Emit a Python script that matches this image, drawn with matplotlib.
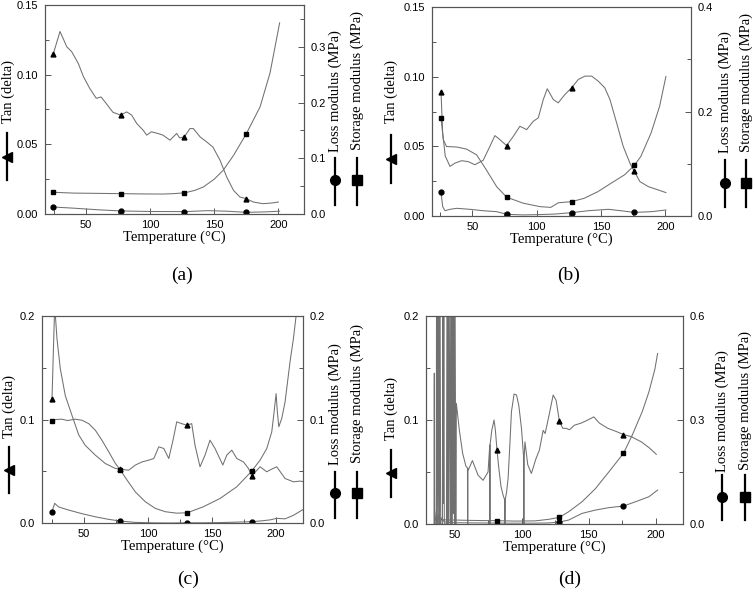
import numpy as np
import matplotlib
matplotlib.use('Agg')
import matplotlib.pyplot as plt
from matplotlib.lines import Line2D
from matplotlib.ticker import MultipleLocator, FormatStrFormatter

# ---- data (temperature in C, tan delta on left axis, moduli in MPa on right axis) ----
# (a)
a_tan_T = [24.5, 29.7, 35, 38.8, 44, 48, 53, 58, 61.7, 66, 71, 77, 81.7, 85.6, 89.5, 94.7, 97.3, 101, 106, 110,
           115.5, 120.7, 123, 126.7, 131, 133.7, 139, 144, 149, 154.5, 159.7, 165, 170, 175, 180.5, 188, 195, 200]
a_tan = [0.115, 0.131, 0.120, 0.1165, 0.108, 0.0985, 0.090, 0.083, 0.084, 0.079, 0.073, 0.071, 0.0733, 0.071, 0.065,
         0.060, 0.0566, 0.059, 0.0578, 0.0566, 0.053, 0.0578, 0.0546, 0.0553, 0.0613, 0.0613, 0.0553, 0.0518, 0.048,
         0.0386, 0.0266, 0.017, 0.0122, 0.011, 0.0086, 0.0074, 0.0079, 0.0086]
a_sto_T = [24.5, 40, 60, 77, 95, 110, 118, 127, 135, 141.5, 150, 157, 165, 175, 185.7, 193.5, 201]
a_sto = [0.039, 0.0375, 0.037, 0.0365, 0.036, 0.0358, 0.0365, 0.038, 0.0425, 0.0485, 0.0625, 0.0785, 0.105, 0.144,
         0.192, 0.253, 0.343]
a_loss_T = [24.5, 40, 60, 77, 100, 127, 145, 160, 175, 190, 201]
a_loss = [0.0125, 0.0105, 0.0075, 0.0055, 0.0045, 0.0043, 0.006, 0.005, 0.003, 0.0038, 0.005]
a_mark_T = [24.5, 77, 126.7, 175]

# (b)
b_tan_T = [25.7, 27, 29, 32.7, 36.6, 41.8, 46.9, 52, 58.5, 63.7, 67.6, 71.5, 76.7, 81.9, 87, 92.3, 97.4, 101.3,
           105.2, 108.3, 113, 116.8, 122, 127.2, 132.4, 137.6, 142.8, 147.9, 153, 157, 162.2, 167.3, 172.5, 175.9,
           180.3, 186.8, 194.5, 200.5]
b_tan = [0.089, 0.0596, 0.043, 0.0356, 0.038, 0.0397, 0.039, 0.0368, 0.040, 0.050, 0.0577, 0.0548, 0.0505, 0.0572,
         0.0644, 0.062, 0.068, 0.0704, 0.0836, 0.0913, 0.0836, 0.0812, 0.0872, 0.092, 0.098, 0.1004, 0.1004, 0.0968,
         0.092, 0.0836, 0.0668, 0.050, 0.038, 0.032, 0.0247, 0.0211, 0.0187, 0.0168]
b_sto_T = [25.7, 27.5, 30, 38, 45.6, 53.4, 61, 69, 76.7, 89.6, 102.6, 111, 116.8, 127.2, 137, 147.7, 158, 168.4,
           175.9, 181, 189, 195.6, 200.5]
b_sto = [0.188, 0.146, 0.133, 0.132, 0.128, 0.117, 0.088, 0.056, 0.036, 0.0245, 0.0179, 0.0165, 0.0253, 0.0275,
         0.0339, 0.0467, 0.0629, 0.0789, 0.0968, 0.114, 0.159, 0.210, 0.267]
b_loss_T = [25.7, 27, 28.8, 32.7, 37.9, 48.2, 58.5, 69, 76.7, 90, 102, 114.3, 127.2, 140.1, 155.7, 165.5, 175.9,
            189.4, 200.5]
b_loss = [0.0456, 0.0179, 0.0101, 0.0128, 0.0147, 0.0128, 0.0101, 0.0083, 0.0032, 0.0021, 0.0027, 0.0037, 0.0064,
          0.0101, 0.0128, 0.0101, 0.0069, 0.0083, 0.0115]
b_mark_T = [25.7, 76.7, 127.2, 175.9]

# (c)
c_tan_T = [25, 27.1, 28.9, 31.5, 35.4, 40.6, 45.9, 51, 58.8, 66.6, 74.5, 78.4, 84.9, 90.1, 95.3, 100.5, 104.5,
           108.4, 112.3, 116.2, 119.5, 122.4, 126.3, 130.2, 134.1, 136.7, 140.6, 144.5, 148.4, 152.3, 158.4, 161.5,
           165.4, 169.3, 174.5, 178.4, 181, 187.5, 192.7, 196.5, 200.5, 207, 213.5, 218.7, 221]
c_tan = [0.1196, 0.21, 0.178, 0.149, 0.123, 0.104, 0.085, 0.075, 0.0656, 0.0575, 0.0527, 0.052, 0.051, 0.056, 0.059,
         0.0607, 0.0623, 0.0736, 0.072, 0.0623, 0.08, 0.0977, 0.096, 0.0945, 0.096, 0.075, 0.0543, 0.0656, 0.080,
         0.072, 0.056, 0.0656, 0.0704, 0.0623, 0.059, 0.0527, 0.0456, 0.0543, 0.0495, 0.052, 0.0543, 0.043, 0.0398,
         0.0405, 0.040]
c_sto_T = [25, 28, 32.8, 37, 43.2, 48.4, 53.7, 58.8, 64, 69.3, 74.5, 78.4, 83.6, 90.1, 97.9, 105.7, 113.5, 122.4,
           130.7, 143.2, 156.2, 169.3, 180.5, 187.5, 192.7, 196.6, 198.4, 200, 201, 202.1, 204.4, 207, 210.9, 213.5,
           215.6, 217]
c_sto = [0.0983, 0.1, 0.1003, 0.099, 0.1003, 0.0993, 0.096, 0.0897, 0.080, 0.0688, 0.0575, 0.0511, 0.0415, 0.030,
         0.0205, 0.0141, 0.0109, 0.0095, 0.0099, 0.0157, 0.0237, 0.035, 0.0495, 0.0607, 0.072, 0.088, 0.107, 0.125,
         0.107, 0.093, 0.101, 0.117, 0.156, 0.178, 0.2, 0.215]
c_loss_T = [25, 27.1, 30.2, 38, 48.4, 58.8, 69.3, 78.4, 90, 105.7, 118, 130.7, 143, 156, 168, 181, 188, 195.3,
            200.5, 207, 213.5, 221]
c_loss = [0.0109, 0.019, 0.0155, 0.0125, 0.009, 0.006, 0.0035, 0.0019, 0.0006, 0.0001, 0.0, 0.0002, 0.0002, 0.0004,
          0.0008, 0.0013, 0.002, 0.003, 0.0045, 0.004, 0.0074, 0.013]
c_mark_T = [25, 78.4, 130.7, 181]

# (d) - noisy start below 50 C
d_tan_T = [34.3, 34.5, 34.7, 35.9, 36.2, 36.6, 37.0, 37.5, 37.9, 38.4, 38.8, 39.3, 39.6, 40.6, 40.9, 41.3, 41.6,
           42.0, 43.6, 44.0, 44.4, 44.8, 45.2, 45.6, 46.4, 46.8, 47.2, 47.6, 48.0, 48.4, 48.8, 49.2, 49.6, 50.0, 50.6,
           51.0, 53.2, 55.7, 58.2, 59.3, 59.5, 59.7, 60.0, 63.0, 67.2, 71.0, 74.7, 76.0, 76.1, 76.2, 77.5, 79.2, 80.2,
           81.4, 82.9, 84.4, 85.9, 87.2, 87.3, 87.5, 88.5, 89.7, 91.0, 92.2, 94.2, 96.0, 97.7, 99.7, 101.2, 101.5,
           101.8, 102.3, 104.4, 107.1, 110.6, 113.1, 115.9, 117.4, 119.9, 123.4, 125.6, 128.1, 130.6, 133.1, 135.6,
           139.3, 144.3, 149.3, 153.8, 158.0, 164.3, 170.5, 176.0, 181.8, 189.3, 195.5, 200.5]
d_tan = [0.0, 0.145, 0.0, 0.0, 0.24, 0.0, 0.24, 0.0, 0.24, 0.0, 0.24, 0.0, 0.0, 0.0, 0.24, 0.02, 0.24, 0.0, 0.0,
         0.24, 0.0, 0.24, 0.0, 0.24, 0.0, 0.24, 0.0, 0.24, 0.0, 0.24, 0.01, 0.24, 0.0, 0.24, 0.0,
         0.116, 0.0906, 0.068, 0.0554, 0.054, 0.0, 0.053, 0.052, 0.061, 0.047, 0.042, 0.050, 0.076, 0.0, 0.076, 0.090,
         0.100, 0.090, 0.071, 0.052, 0.036, 0.028, 0.023, 0.0, 0.023, 0.030, 0.044, 0.076, 0.108, 0.125, 0.124, 0.114,
         0.092, 0.066, 0.0, 0.066, 0.079, 0.057, 0.0486, 0.063, 0.071, 0.090, 0.087, 0.102, 0.124, 0.119, 0.0986,
         0.092, 0.092, 0.0906, 0.095, 0.097, 0.100, 0.103, 0.097, 0.092, 0.089, 0.086, 0.084, 0.079, 0.073, 0.067]
d_sto_T = [36, 38, 42, 50, 60, 70, 81.4, 95, 110, 120, 128.1, 135, 145, 155, 165, 176, 182.5, 190, 195, 199.5, 201.5]
d_sto = [0.024, 0.015, 0.012, 0.0114, 0.0105, 0.0099, 0.0096, 0.0084, 0.009, 0.0135, 0.0192, 0.0354, 0.0642, 0.102,
         0.150, 0.204, 0.256, 0.324, 0.381, 0.447, 0.492]
d_loss_T = [35, 36, 37, 38, 39, 40, 42, 50, 70, 90, 110, 120, 128.1, 135, 145, 155, 165, 176, 185, 195, 201.5]
d_loss = [0.0, 0.036, 0.0, 0.030, 0.0, 0.018, 0.006, 0.0036, 0.003, 0.0024, 0.0024, 0.003, 0.0057, 0.0114, 0.0306,
          0.0402, 0.0471, 0.0519, 0.0642, 0.0786, 0.0978]
d_mark_T = [81.4, 128.1, 176]
d_loss_mark_T = [128.1, 176]

# ---- layout ----
W, H = 755, 593
SERIF = 'Liberation Serif'
SANS = 'Liberation Sans'
LINE = '#707070'

fig = plt.figure(figsize=(W / 100, H / 100), dpi=100)


def fx(x):
    return x / W


def fy(y):
    return 1 - y / H


def key(x, ytop, ybot, ymark, marker):
    # vertical legend symbol next to a rotated axis title
    fig.add_artist(Line2D([fx(x), fx(x)], [fy(ytop), fy(ybot)], color='black', lw=1.6))
    fig.add_artist(Line2D([fx(x)], [fy(ymark)], marker=marker, ms=7, color='black', ls='none'))


def vtext(x, ybot, s):
    fig.text(fx(x), fy(ybot), s, rotation=90, ha='center', va='bottom', family=SERIF, size=10.5)


panels = [
    dict(px=(45, 5, 304, 214), xlim=(18, 220), yl=(0, 0.15), ylm=(0.05, 0.025), ylf='%.2f',
         yr=(0, 0.375), yrm=(0.1, 0.05), yrf='%.1f',
         tan=(a_tan_T, a_tan), sto=(a_sto_T, a_sto), loss=(a_loss_T, a_loss), mk=a_mark_T, lmk=a_mark_T,
         tan_lab=(8, 123), tan_key=(7, 133, 180, 157), loss_lab=(335, 152), sto_lab=(357, 150),
         key_y=(158, 205, 180), cap=('(a)', 182, 275)),
    dict(px=(432, 7, 691, 216), xlim=(18.7, 220), yl=(0, 0.15), ylm=(0.05, 0.025), ylf='%.2f',
         yr=(0, 0.4), yrm=(0.2, 0.1), yrf='%.1f',
         tan=(b_tan_T, b_tan), sto=(b_sto_T, b_sto), loss=(b_loss_T, b_loss), mk=b_mark_T, lmk=b_mark_T,
         tan_lab=(391, 123), tan_key=(391, 135, 183, 159), loss_lab=(725, 153), sto_lab=(746, 152),
         key_y=(160, 207, 183), cap=('(b)', 569, 275)),
    dict(px=(42, 316, 303, 523), xlim=(17.2, 221), yl=(0, 0.2), ylm=(0.1, 0.05), ylf='%.1f',
         yr=(0, 0.2), yrm=(0.1, 0.05), yrf='%.1f',
         tan=(c_tan_T, c_tan), sto=(c_sto_T, c_sto), loss=(c_loss_T, c_loss), mk=c_mark_T, lmk=c_mark_T,
         tan_lab=(9, 438), tan_key=(9, 447, 493, 470), loss_lab=(335, 465), sto_lab=(357, 463),
         key_y=(472, 518, 493), cap=('(c)', 188, 579)),
    dict(px=(426, 316, 683, 524), xlim=(28.3, 220.5), yl=(0, 0.2), ylm=(0.1, 0.05), ylf='%.1f',
         yr=(0, 0.6), yrm=(0.3, 0.15), yrf='%.1f',
         tan=(d_tan_T, d_tan), sto=(d_sto_T, d_sto), loss=(d_loss_T, d_loss), mk=d_mark_T, lmk=d_loss_mark_T,
         tan_lab=(391, 440), tan_key=(391, 450, 497, 473), loss_lab=(722, 472), sto_lab=(745, 470),
         key_y=(475, 520, 497), cap=('(d)', 570, 579)),
]

for p in panels:
    x0, y0, x1, y1 = p['px']
    ax = fig.add_axes([fx(x0), fy(y1), (x1 - x0) / W, (y1 - y0) / H])
    ax2 = ax.twinx()

    tT, tv = p['tan']
    sT, sv = p['sto']
    lT, lv = p['loss']
    ax.plot(tT, tv, color=LINE, lw=0.75)
    ax2.plot(sT, sv, color=LINE, lw=0.75)
    ax2.plot(lT, lv, color=LINE, lw=0.75)
    mk = np.array(p['mk'])
    lmk = np.array(p['lmk'])
    ax.plot(mk, np.interp(mk, tT, tv), '^', color='black', ms=3.5, ls='none')
    ax2.plot(mk, np.interp(mk, sT, sv), 's', color='black', ms=3.3, ls='none')
    ax2.plot(lmk, np.interp(lmk, lT, lv), 'o', color='black', ms=3.5, ls='none')

    ax.set_xlim(*p['xlim'])
    ax.set_ylim(*p['yl'])
    ax2.set_ylim(*p['yr'])
    ax.xaxis.set_major_locator(MultipleLocator(50))
    ax.xaxis.set_minor_locator(MultipleLocator(25))
    ax.yaxis.set_major_locator(MultipleLocator(p['ylm'][0]))
    ax.yaxis.set_minor_locator(MultipleLocator(p['ylm'][1]))
    ax.yaxis.set_major_formatter(FormatStrFormatter(p['ylf']))
    ax2.yaxis.set_major_locator(MultipleLocator(p['yrm'][0]))
    ax2.yaxis.set_minor_locator(MultipleLocator(p['yrm'][1]))
    ax2.yaxis.set_major_formatter(FormatStrFormatter(p['yrf']))

    for a in (ax, ax2):
        for s in a.spines.values():
            s.set_color('#555555')
            s.set_linewidth(0.8)
        a.tick_params(which='both', direction='in', color='#555555', width=0.7, labelsize=8)
        a.tick_params(which='major', length=4)
        a.tick_params(which='minor', length=3)
        for lab in a.get_xticklabels() + a.get_yticklabels():
            lab.set_family(SANS)
    ax.tick_params(axis='y', pad=5)
    ax2.tick_params(axis='y', pad=5)
    ax.tick_params(axis='x', pad=4)

    ax.set_xlabel('Temperature (\u00b0C)', family=SERIF, size=10.5, labelpad=1)

    # rotated axis titles with their legend symbols
    vtext(p['tan_lab'][0], p['tan_lab'][1], 'Tan (delta)')
    tx, ta, tb, tm = p['tan_key']
    key(tx, ta, tb, tm, '<')
    ka, kb, km = p['key_y']
    vtext(p['loss_lab'][0], p['loss_lab'][1], 'Loss modulus (MPa)')
    key(p['loss_lab'][0], ka, kb, km, 'o')
    vtext(p['sto_lab'][0], p['sto_lab'][1], 'Storage modulus (MPa)')
    key(p['sto_lab'][0], ka, kb, km, 's')

    cs, cx, cy = p['cap']
    fig.text(fx(cx), fy(cy), cs, ha='center', va='center', family=SERIF, size=14)

fig.savefig('out.png', dpi=100)
